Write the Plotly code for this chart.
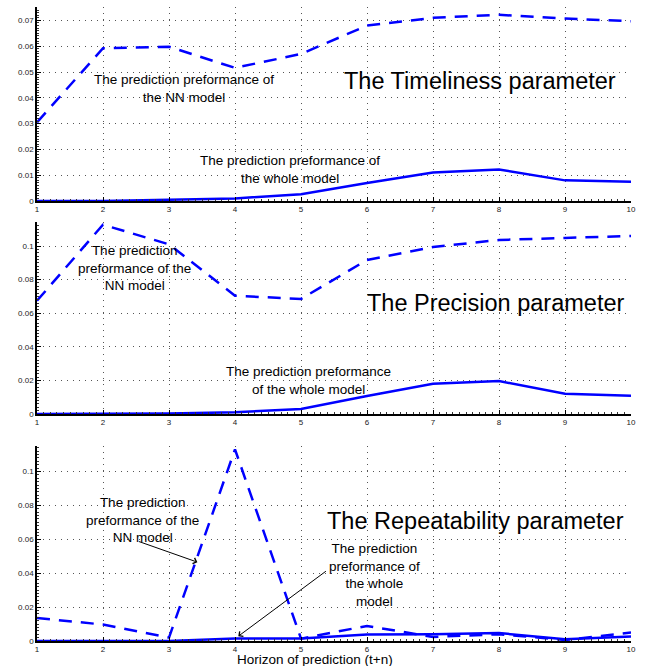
import plotly.graph_objects as go

horizon = [1, 2, 3, 4, 5, 6, 7, 8, 9, 10]

timeliness_nn = [0.0305, 0.0592, 0.0598, 0.0516, 0.0570, 0.0680, 0.0710, 0.0722, 0.0707, 0.0697]
timeliness_whole = [0.0, 0.0, 0.0005, 0.0010, 0.0026, 0.0070, 0.0110, 0.0122, 0.0080, 0.0075]

precision_nn = [0.0674, 0.1127, 0.1010, 0.0704, 0.0685, 0.0917, 0.0994, 0.1036, 0.1048, 0.1060]
precision_whole = [0.0, 0.0, 0.0003, 0.0010, 0.0030, 0.0107, 0.0180, 0.0196, 0.0121, 0.0109]

repeat_nn = [0.0136, 0.0097, 0.0020, 0.1130, 0.0014, 0.0089, 0.0024, 0.0040, 0.0006, 0.0050]
repeat_whole = [0.0, 0.0, 0.0, 0.0015, 0.0015, 0.0038, 0.0040, 0.0047, 0.0010, 0.0026]

panel_titles = ["The Timeliness parameter", "The Precision parameter", "The Repeatability parameter"]
x_label = "Horizon of prediction (t+n)"

BLUE = "#0000ff"
FONT = "Liberation Sans, Arial, sans-serif"

fig = go.Figure()

panels = [
    (timeliness_nn, timeliness_whole, "x", "y"),
    (precision_nn, precision_whole, "x2", "y2"),
    (repeat_nn, repeat_whole, "x3", "y3"),
]
for nn, whole, xa, ya in panels:
    fig.add_trace(go.Scatter(x=horizon, y=nn, mode="lines", xaxis=xa, yaxis=ya,
                             line=dict(color=BLUE, width=2.5, dash="13px,9px"), showlegend=False))
    fig.add_trace(go.Scatter(x=horizon, y=whole, mode="lines", xaxis=xa, yaxis=ya,
                             line=dict(color=BLUE, width=2.5), showlegend=False))

W, H = 649, 666
l_m, r_m, t_m, b_m = 37, 18, 7, 25
pw = W - l_m - r_m
ph = H - t_m - b_m

def dom(top_px, bot_px):
    return [(H - b_m - bot_px) / ph, (H - b_m - top_px) / ph]

GRID = dict(showgrid=True, gridcolor="#555555", griddash="1px,5px", gridwidth=1)

def xaxis_def(anchor):
    return dict(range=[1, 10], dtick=1, tick0=1, anchor=anchor, automargin=False,
                showline=True, linecolor="black", linewidth=1.5,
                ticks="inside", ticklen=4, tickcolor="black",
                minor=dict(ticks="inside", ticklen=2, dtick=0.1, tickcolor="#333333", showgrid=False),
                tickfont=dict(size=8, family=FONT, color="#222222"),
                zeroline=False, mirror=False, **GRID)

def yaxis_def(anchor, top, dtick, domain):
    return dict(range=[0, top], dtick=dtick, tick0=0, anchor=anchor, domain=domain, automargin=False,
                showline=True, linecolor="black", linewidth=1.5,
                ticks="inside", ticklen=4, tickcolor="black",
                minor=dict(ticks="inside", ticklen=2, dtick=dtick / 10, tickcolor="#333333", showgrid=False),
                tickfont=dict(size=8, family=FONT, color="#222222"),
                zeroline=False, mirror=False, **GRID)

fig.update_layout(
    width=W, height=H,
    margin=dict(l=l_m, r=r_m, t=t_m, b=b_m),
    plot_bgcolor="white", paper_bgcolor="white",
    xaxis=xaxis_def("y"),
    xaxis2=xaxis_def("y2"),
    xaxis3=xaxis_def("y3"),
    yaxis=yaxis_def("x", 0.0752, 0.01, dom(7, 201)),
    yaxis2=yaxis_def("x2", 0.1143, 0.02, dom(222, 414)),
    yaxis3=yaxis_def("x3", 0.115, 0.02, dom(446, 641)),
)

ann = []
def txt(x, y, xr, yr, text, size):
    ann.append(dict(x=x, y=y, xref=xr, yref=yr, text=text, showarrow=False,
                    font=dict(size=size, family=FONT, color="black"),
                    xanchor="center", yanchor="middle", align="center"))

# Top panel
txt(7.71, 0.0467, "x", "y", panel_titles[0], 23.5)
txt(3.22, 0.0437, "x", "y", "The prediction preformance of<br>the NN model", 13.5)
txt(4.83, 0.0124, "x", "y", "The prediction preformance of<br>the whole model", 13.5)
# Middle panel
txt(7.95, 0.0661, "x2", "y2", panel_titles[1], 23.5)
txt(2.48, 0.0869, "x2", "y2", "The prediction<br>preformance of the<br>NN model", 13.5)
txt(5.12, 0.0202, "x2", "y2", "The prediction preformance<br>of the whole model", 13.5)
# Bottom panel
txt(7.65, 0.0710, "x3", "y3", panel_titles[2], 23.5)
txt(2.6, 0.0711, "x3", "y3", "The prediction<br>preformance of the<br>NN model", 13.5)
txt(6.12, 0.0391, "x3", "y3", "The prediction<br>preformance of<br>the whole<br>model", 13.5)

# x-axis label under the bottom panel (paper coords relative to plot area)
ann.append(dict(x=(315 - l_m) / pw, y=(H - b_m - 659) / ph, xref="paper", yref="paper",
                text=x_label, showarrow=False, font=dict(size=13.5, family=FONT, color="black"),
                xanchor="center", yanchor="middle"))

# arrows
ann.append(dict(x=3.43, y=0.0465, xref="x3", yref="y3", ax=2.52, ay=0.059, axref="x3", ayref="y3",
                showarrow=True, arrowhead=4, arrowsize=1.2, arrowwidth=1, arrowcolor="black", text=""))
ann.append(dict(x=4.05, y=0.0028, xref="x3", yref="y3", ax=5.4, ay=0.0418, axref="x3", ayref="y3",
                showarrow=True, arrowhead=4, arrowsize=1.2, arrowwidth=1, arrowcolor="black", text=""))

fig.update_layout(annotations=ann)

fig.write_html("out.html", config={"displayModeBar": False},
               post_script="document.body.style.margin='0';document.body.style.overflow='hidden';")
